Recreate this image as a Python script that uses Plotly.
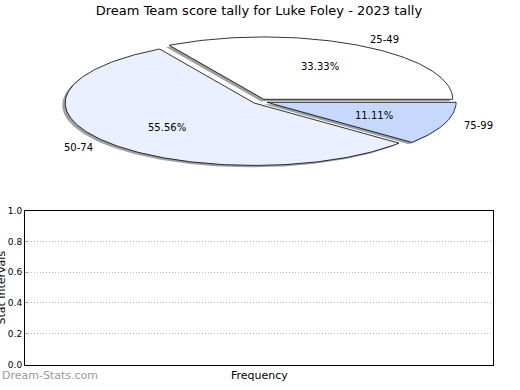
import math
import plotly.graph_objects as go

# ---- data ----
categories = ["25-49", "50-74", "75-99"]
counts = [3, 5, 1]
slice_colors = ["#ffffff", "#eaf0ff", "#c6d9fd"]
title_text = "Dream Team score tally for Luke Foley - 2023 tally"
y_ticks = [0.0, 0.2, 0.4, 0.6, 0.8, 1.0]
y_tick_labels = ["0.0", "0.2", "0.4", "0.6", "0.8", "1.0"]

W, H = 520, 390
FONT = "DejaVu Sans"

# pie geometry (pixel space of the hidden pie axes)
cx, cy = 260.0, 99.0
rx, ry = 189.0, 64.0
explode = 0.04
shadow_dx, shadow_dy = -3.0, 2.0

total = float(sum(counts))
fig = go.Figure()

# empty trace so the lower (empty) axes are drawn
fig.add_trace(go.Scatter(x=[], y=[], mode="markers", showlegend=False,
                         hoverinfo="skip", xaxis="x", yaxis="y"))

wedges = []
start = 0.0
for cat, val, col in zip(categories, counts, slice_colors):
    sweep = 360.0 * val / total
    mid = math.radians(start + sweep / 2)
    ox = cx + explode * rx * math.cos(mid)
    oy = cy - explode * ry * math.sin(mid)
    n = max(8, int(sweep))
    xs, ys = [ox], [oy]
    for i in range(n + 1):
        t = math.radians(start + sweep * i / n)
        xs.append(ox + rx * math.cos(t))
        ys.append(oy - ry * math.sin(t))
    xs.append(ox)
    ys.append(oy)
    wedges.append((cat, val, col, xs, ys, mid, ox, oy))
    start += sweep

# shadows first
for cat, val, col, xs, ys, mid, ox, oy in wedges:
    fig.add_trace(go.Scatter(
        x=[v + shadow_dx for v in xs], y=[v + shadow_dy for v in ys],
        mode="lines", fill="toself", fillcolor="rgba(120,120,120,0.7)",
        line=dict(width=0), hoverinfo="skip", showlegend=False,
        xaxis="x2", yaxis="y2"))

for cat, val, col, xs, ys, mid, ox, oy in wedges:
    fig.add_trace(go.Scatter(
        x=xs, y=ys, mode="lines", fill="toself", fillcolor=col,
        line=dict(color="#000000", width=0.8), name=cat,
        hoverinfo="name", showlegend=False, xaxis="x2", yaxis="y2"))

annotations = []
for cat, val, col, xs, ys, mid, ox, oy in wedges:
    pct = 100.0 * val / total
    px = ox + 0.6 * rx * math.cos(mid)
    py = oy - 0.6 * ry * math.sin(mid)
    annotations.append(dict(x=px, y=py, xref="x2", yref="y2",
                            text="%.2f%%" % pct, showarrow=False,
                            font=dict(family=FONT, size=10, color="#000000"),
                            xanchor="center", yanchor="middle"))
    lx = ox + 1.1 * rx * math.cos(mid)
    ly = oy - 1.1 * ry * math.sin(mid)
    annotations.append(dict(x=lx, y=ly, xref="x2", yref="y2",
                            text=cat, showarrow=False,
                            font=dict(family=FONT, size=10, color="#000000"),
                            xanchor="left" if math.cos(mid) > 0 else "right",
                            yanchor="middle"))

# bottom empty plot axis titles & watermark
annotations.append(dict(x=2 / W, y=1 - 290 / H, xref="paper", yref="paper",
                        text="Stat Intervals", textangle=-90, showarrow=False,
                        font=dict(family=FONT, size=11, color="#000000"),
                        xanchor="center", yanchor="middle"))
annotations.append(dict(x=259 / W, y=1 - 380 / H, xref="paper", yref="paper",
                        text="Frequency", showarrow=False,
                        font=dict(family=FONT, size=11, color="#000000"),
                        xanchor="center", yanchor="middle"))
annotations.append(dict(x=0, y=1 - 380 / H, xref="paper", yref="paper",
                        text="Dream-Stats.com", showarrow=False,
                        font=dict(family=FONT, size=11, color="#999999"),
                        xanchor="left", yanchor="middle"))

fig.update_layout(
    width=W, height=H,
    margin=dict(l=0, r=0, t=0, b=0),
    paper_bgcolor="#ffffff", plot_bgcolor="rgba(0,0,0,0)",
    showlegend=False,
    title=dict(text=title_text, x=259 / W, xanchor="center",
               y=1 - 10 / H, yanchor="middle",
               font=dict(family=FONT, size=13, color="#000000")),
    xaxis=dict(domain=[25 / W, 493 / W], range=[0, 1], showticklabels=False,
               ticks="", showgrid=False, zeroline=False, showline=True,
               linecolor="#000000", linewidth=1, mirror=True, fixedrange=True),
    yaxis=dict(domain=[1 - 369 / H, 1 - 211 / H], range=[0, 1],
               tickvals=y_ticks, ticktext=y_tick_labels,
               tickfont=dict(family=FONT, size=9, color="#000000"),
               ticks="inside", ticklen=3, tickcolor="#aaaaaa",
               showgrid=True, gridcolor="#b8b8b8", griddash="1px,2px",
               gridwidth=1,
               zeroline=False, showline=True, linecolor="#000000", linewidth=1,
               mirror=True, fixedrange=True),
    xaxis2=dict(domain=[0, 1], range=[0, W], visible=False, fixedrange=True),
    yaxis2=dict(domain=[1 - 200 / H, 1], range=[200, 0], visible=False,
                fixedrange=True),
    annotations=annotations,
)

fig.write_html("out.html", config={"displayModeBar": False},
               post_script="document.body.style.margin='0';"
                           "document.body.style.overflow='hidden';")
